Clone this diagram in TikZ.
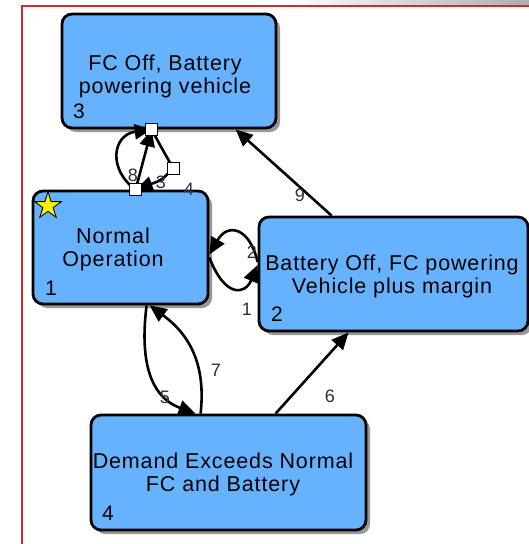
\documentclass[tikz,border=0pt]{standalone}
\usepackage{fontspec}
\newfontfamily\boxfont{Liberation Sans}[LetterSpace=4]
\newfontfamily\numfont{Liberation Sans}
\usetikzlibrary{arrows.meta,shapes.geometric,shadows}
\definecolor{boxblue}{RGB}{102,178,255}
\definecolor{framered}{RGB}{214,40,52}
\definecolor{lblgray}{RGB}{45,45,60}
\begin{document}
\begin{tikzpicture}[x=1pt,y=-1pt,
  state/.style={draw=black, line width=2.8pt, fill=boxblue, rounded corners=10pt,
    inner sep=0pt, drop shadow={shadow xshift=4pt, shadow yshift=-4pt, fill=black!45, opacity=0.9}},
  boxtext/.style={inner sep=0pt, align=center, font=\boxfont\fontsize{21.5}{23}\selectfont},
  numtext/.style={inner sep=0pt, font=\numfont\fontsize{21}{23}\selectfont},
  lbl/.style={inner sep=0pt, text=lblgray, font=\numfont\fontsize{18}{20}\selectfont},
  edge/.style={draw=black, line width=2.6pt, -{Triangle[length=17pt,width=15pt]}},
  plainedge/.style={draw=black, line width=2.6pt},
  sq/.style={draw=black, line width=0.8pt, fill=white, minimum size=12pt, inner sep=0pt}
]
\useasboundingbox (0,0) rectangle (529,544);
\clip (0,0) rectangle (529,544);
% window decoration
\shade[left color=white, right color=black!32] (285,0) rectangle (529,5);
\draw[framered, line width=1.6pt] (22,546) -- (22,6) -- (531,6);

% states
\node[state, minimum width=214pt, minimum height=114pt] (b3) at (169,71) {};
\node[state, minimum width=175pt, minimum height=113pt] (b1) at (120.5,247.5) {};
\node[state, minimum width=269pt, minimum height=114pt] (b2) at (393.5,274) {};
\node[state, minimum width=275pt, minimum height=115pt] (b4) at (228.5,472.5) {};

\node[boxtext] (t3) at (165,76) {FC Off, Battery\\powering vehicle};
\node[boxtext] (t1) at (113,249) {Normal\\Operation};
\node[boxtext] (t2) at (392,276) {Battery Off, FC powering\\Vehicle plus margin};
\node[boxtext] (t4) at (223,474) {Demand Exceeds Normal\\FC and Battery};

\node[numtext] (n3) at (79,111) {3};
\node[numtext] (n1) at (51,288) {1};
\node[numtext] (n2) at (277,314) {2};
\node[numtext] (n4) at (108,513) {4};

\node[star, star points=5, star point ratio=2.6, minimum size=28pt, inner sep=0pt,
  draw=black, line width=0.9pt, fill=yellow] (star) at (48,206) {};

% connectors
\draw[edge] ([xshift=74pt]b2.north west) -- ([xshift=175pt]b3.south west);   % 9
\draw[edge] ([xshift=186pt]b4.north west) -- ([xshift=91pt]b2.south west);   % 6
\draw[edge] ([xshift=115pt]b1.south west) .. controls (141,350) and (145,395) .. ([xshift=106pt]b4.north west); % 5
\draw[edge] ([xshift=111pt]b4.north west) .. controls (206,365) and (190,335) .. ([xshift=118pt]b1.south west); % 7
\draw[edge] ([yshift=12pt]b2.west) .. controls (250,228) and (228,222) .. ([yshift=-7pt]b1.east); % 2
\draw[edge] ([yshift=-10pt]b1.east) .. controls (225,298) and (245,295) .. ([yshift=9pt]b2.west); % 1

\coordinate (c1) at ([xshift=91pt]b3.south west);
\coordinate (c3) at ([xshift=104pt]b1.north west);
\coordinate (c2) at (173,168);
\draw[edge] (c3) .. controls (108,170) and (112,135) .. (c1); % 8
\draw[edge] (c3) -- (c1); % 3
\draw[plainedge] (c1) .. controls (160,145) .. (c2);
\draw[edge] (c2) .. controls (162,180) .. (c3); % 4
\node[sq] (s1) at (c1) {};
\node[sq] (s2) at (c2) {};
\node[sq] (s3) at (c3) {};

% labels
\node[lbl] (l9) at (300,195) {9};
\node[lbl] (l6) at (330,396) {6};
\node[lbl] (l5) at (165,397) {5};
\node[lbl] (l7) at (216,370) {7};
\node[lbl] (l2) at (252,252) {2};
\node[lbl] (l1) at (247,309) {1};
\node[lbl] (l8) at (133,175) {8};
\node[lbl] (l3) at (161,182) {3};
\node[lbl] (l4) at (189,189) {4};
\end{tikzpicture}
\end{document}
